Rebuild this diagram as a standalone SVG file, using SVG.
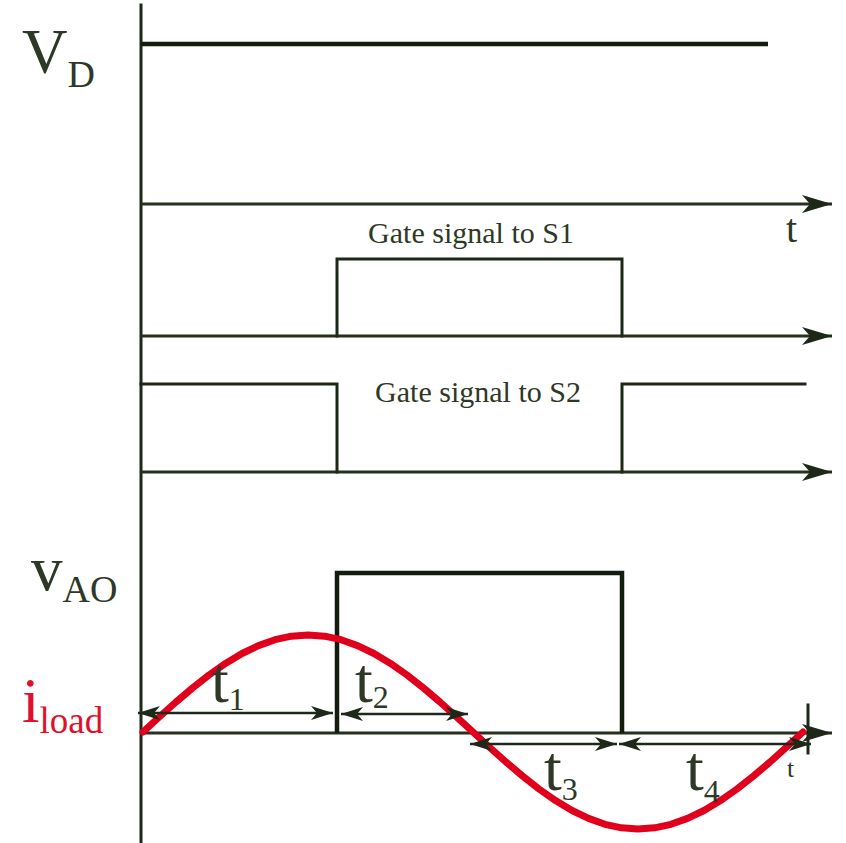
<svg xmlns="http://www.w3.org/2000/svg" width="846" height="843" viewBox="0 0 846 843">
<defs>
<marker id="axisArrow" markerUnits="userSpaceOnUse" markerWidth="32" markerHeight="20" refX="30" refY="9" orient="auto">
<path d="M0,0 L30,9 L0,18 L8,9 z" fill="#1e2818"/>
</marker>
<marker id="dimArrow" markerUnits="userSpaceOnUse" markerWidth="24" markerHeight="16" refX="22" refY="7" orient="auto-start-reverse">
<path d="M0,0 L22,7 L0,14 L6,7 z" fill="#1e2818"/>
</marker>
</defs>
<style>
.ln{fill:none;stroke:#1e2818;stroke-width:3;stroke-linecap:square}
.thk{fill:none;stroke:#141c10;stroke-width:4.5}
.ax{fill:none;stroke:#26301c;stroke-width:3;marker-end:url(#axisArrow)}
.dim{fill:none;stroke:#1e2818;stroke-width:2.5;marker-start:url(#dimArrow);marker-end:url(#dimArrow)}
.tx{font-family:"Liberation Serif","Times New Roman",serif;fill:#2e3826}
.red{fill:#e0102a}
</style>
<rect width="846" height="843" fill="#ffffff"/>

<g id="axes">
<line class="ln" x1="141" y1="5" x2="141" y2="843" stroke-width="2.5"/>
<line class="ax" x1="141" y1="204" x2="832" y2="204"/>
<line class="ax" x1="141" y1="336" x2="832" y2="336"/>
<line class="ax" x1="141" y1="472" x2="832" y2="472"/>
<line class="ax" x1="141" y1="733" x2="832" y2="733"/>
<line class="ln" x1="808" y1="705" x2="808" y2="753" stroke-width="1.5"/>
<text class="tx" x="786" y="242" font-size="40">t</text>
<text class="tx" x="787" y="777" font-size="26">t</text>
</g>

<g id="vd">
<line class="thk" x1="141" y1="44" x2="768" y2="44" stroke-width="5.5"/>
<text class="tx" x="22" y="73" font-size="63">V<tspan font-size="38" dy="14">D</tspan></text>
</g>

<g id="gate-s1">
<polyline class="ln" points="337,336 337,259 622,259 622,336"/>
<text class="tx" x="471" y="243" font-size="30" text-anchor="middle">Gate signal to S1</text>
</g>

<g id="gate-s2">
<polyline class="ln" points="141,384 337,384 337,472"/>
<polyline class="ln" points="622,472 622,384 805,384"/>
<text class="tx" x="478" y="402" font-size="30" text-anchor="middle">Gate signal to S2</text>
</g>

<g id="vao">
<polyline class="thk" points="337,733 337,573 622,573 622,733"/>
<text class="tx" x="31" y="590" font-size="63">v<tspan font-size="38" dy="12">AO</tspan></text>
</g>

<g id="iload">
<polyline fill="none" stroke="#e0001b" stroke-width="7" stroke-linejoin="round" stroke-linecap="round" points="143,732 159.5,716.8 176,702 192.5,688 209,675 225.5,663.4 242,653.5 258.5,645.6 275,639.7 291.5,636.2 308,635 324.5,636.2 341,639.7 357.5,645.6 374,653.5 390.5,663.4 407,675 423.5,688 440,702 456.5,716.8 473,732 489.5,747.2 506,762 522.5,776 539,789 555.5,800.6 572,810.5 588.5,818.4 605,824.3 621.5,827.8 638,829 654.5,827.8 671,824.3 687.5,818.4 704,810.5 720.5,800.6 737,789 753.5,776 770,762 786.5,747.2 803,732"/>
<text class="tx red" x="22" y="722" font-size="63">i<tspan font-size="37" dy="11">load</tspan></text>
</g>

<g id="connectors">
<line class="dim" x1="138" y1="713" x2="333" y2="713"/>
<line class="dim" x1="341" y1="714" x2="468" y2="714"/>
<line class="dim" x1="470" y1="744" x2="617" y2="744"/>
<line class="dim" x1="619" y1="744" x2="811" y2="744"/>
</g>

<g id="labels">
<text class="tx" x="211" y="702" font-size="64">t<tspan font-size="32" dy="8">1</tspan></text>
<text class="tx" x="355" y="702" font-size="64">t<tspan font-size="32" dy="6">2</tspan></text>
<text class="tx" x="544" y="790" font-size="64">t<tspan font-size="32" dy="10">3</tspan></text>
<text class="tx" x="686" y="790" font-size="64">t<tspan font-size="32" dy="12">4</tspan></text>
</g>
</svg>
